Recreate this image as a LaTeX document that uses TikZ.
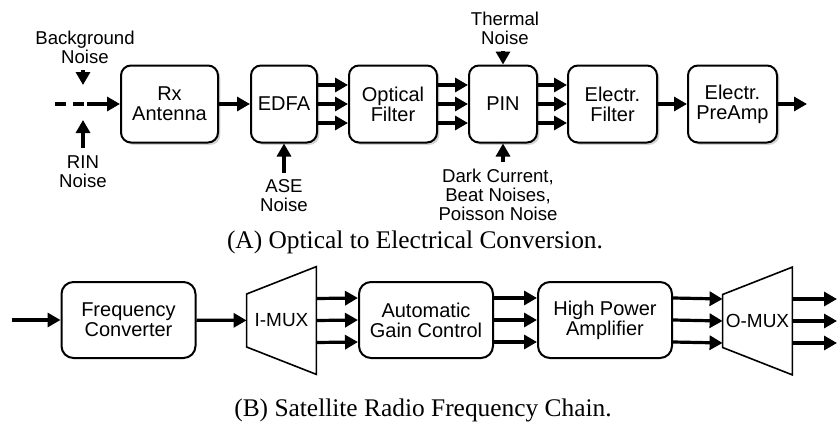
\documentclass[tikz,border=0pt]{standalone}
\usepackage{fontspec}
\setmainfont{Liberation Sans}
\newfontfamily\capfont{Liberation Serif}
\usetikzlibrary{arrows.meta,shadows}

\begin{document}
\begin{tikzpicture}[
    x=0.5pt,y=-0.5pt,
    font=\fontsize{10}{10}\selectfont,
    blk/.style={draw,line width=1pt,rounded corners=5pt,align=center,minimum height=38.5pt,inner sep=1pt,fill=white,
      drop shadow={shadow xshift=1.2pt,shadow yshift=-1.2pt,opacity=0.35}},
    rfblk/.style={draw,line width=1pt,rounded corners=6pt,align=center,minimum width=67pt,minimum height=38pt,inner sep=1pt},
    mux/.style={minimum width=34.5pt,minimum height=53.5pt,inner sep=0pt,font=\fontsize{9.5}{9.5}\selectfont},
    muxline/.style={line width=0.8pt,line join=miter},
    arr/.style={-{Triangle[length=6.5pt,width=7pt]},line width=1.6pt},
    noise/.style={align=center,font=\fontsize{9.3}{9.5}\selectfont},
    caption/.style={font=\capfont\fontsize{12.7}{13}\selectfont}
  ]
    \useasboundingbox (0,0) rectangle (837,428);

    % (A) optical to electrical
    \node[blk,minimum width=48.5pt] (rx) at (169.5,104) {Rx\\Antenna};
    \node[blk,minimum width=33pt] (edfa) at (284,104) {EDFA};
    \node[blk,minimum width=44pt] (ofilt) at (393,104) {Optical\\Filter};
    \node[blk,minimum width=34pt] (pin) at (503,104) {PIN};
    \node[blk,minimum width=44.5pt] (efilt) at (612.5,104) {Electr.\\Filter};
    \node[blk,minimum width=44.5pt] (preamp) at (732.5,104) {Electr.\\PreAmp};
    \coordinate (aout) at (807,104);

    \node[noise] (bgn) at (85,47) {Background\\Noise};
    \node[noise] (rin) at (83,171.5) {RIN\\Noise};
    \node[noise] (ase) at (284,196) {ASE\\Noise};
    \node[noise] (thermal) at (505,28) {Thermal\\Noise};
    \node[noise] (dark) at (498,195) {Dark Current,\\Beat Noises,\\Poisson Noise};

    \coordinate (ain) at (55,104);
    \coordinate (adash) at (87,104);
    \coordinate (bgend) at (83,85);
    \coordinate (rinend) at (83,120);

    \draw[line width=1.6pt,dash pattern=on 5.5pt off 3.5pt] (ain) -- (adash);
    \draw[arr] (adash) -- (rx);
    \draw[arr] (bgn.south -| bgend) -- (bgend);
    \draw[arr] (rin.north) -- (rinend);
    \draw[arr] (rx) -- (edfa);
    \draw[arr] (ase.north) -- (edfa.south);
    \draw[arr] ([yshift=9.5pt]edfa.east) -- ([yshift=9.5pt]ofilt.west);
    \draw[arr] (edfa.east) -- (ofilt.west);
    \draw[arr] ([yshift=-9.5pt]edfa.east) -- ([yshift=-9.5pt]ofilt.west);
    \draw[arr] ([yshift=9.5pt]ofilt.east) -- ([yshift=9.5pt]pin.west);
    \draw[arr] (ofilt.east) -- (pin.west);
    \draw[arr] ([yshift=-9.5pt]ofilt.east) -- ([yshift=-9.5pt]pin.west);
    \draw[arr] (thermal.south -| pin.north) -- (pin.north);
    \draw[arr] (dark.north -| pin.south) -- (pin.south);
    \draw[arr] ([yshift=9.5pt]pin.east) -- ([yshift=9.5pt]efilt.west);
    \draw[arr] (pin.east) -- (efilt.west);
    \draw[arr] ([yshift=-9.5pt]pin.east) -- ([yshift=-9.5pt]efilt.west);
    \draw[arr] (efilt) -- (preamp);
    \draw[arr] (preamp) -- (aout);

    \node[caption] (capa) at (415,242) {(A) Optical to Electrical Conversion.};

    % (B) satellite RF chain
    \coordinate (bin) at (12,320);
    \node[rfblk] (fconv) at (128.5,320) {Frequency\\Converter};
    \node[mux] (imux) at (281.5,320.5) {I-MUX};
    \node[rfblk] (agc) at (426,320) {Automatic\\Gain Control};
    \node[rfblk] (hpa) at (605,320) {High Power\\Amplifier};
    \node[mux] (omux) at (757.5,321) {O-MUX};
    \coordinate (bout) at (837,321);

    \draw[muxline] ([yshift=13.25pt]imux.west) -- (imux.north east) -- (imux.south east) -- ([yshift=-13.25pt]imux.west) -- cycle;
    \draw[muxline] ([yshift=13.25pt]omux.west) -- (omux.north east) -- (omux.south east) -- ([yshift=-13.25pt]omux.west) -- cycle;

    \draw[arr] (bin) -- (fconv);
    \draw[arr] (fconv) -- (imux);
    \draw[arr] ([yshift=11pt]imux.east) -- ([yshift=11pt]agc.west);
    \draw[arr] (imux.east) -- (agc.west);
    \draw[arr] ([yshift=-11pt]imux.east) -- ([yshift=-11pt]agc.west);
    \draw[arr] ([yshift=11pt]agc.east) -- ([yshift=11pt]hpa.west);
    \draw[arr] (agc.east) -- (hpa.west);
    \draw[arr] ([yshift=-11pt]agc.east) -- ([yshift=-11pt]hpa.west);
    \draw[arr] ([yshift=11pt]hpa.east) -- ([yshift=11pt]omux.west);
    \draw[arr] (hpa.east) -- (omux.west);
    \draw[arr] ([yshift=-11pt]hpa.east) -- ([yshift=-11pt]omux.west);
    \draw[arr] ([yshift=11pt]omux.east) -- ([yshift=11pt]bout);
    \draw[arr] (omux.east) -- (bout);
    \draw[arr] ([yshift=-11pt]omux.east) -- ([yshift=-11pt]bout);

    \node[caption] (capb) at (423,410) {(B) Satellite Radio Frequency Chain.};
  \end{tikzpicture}
\end{document}
